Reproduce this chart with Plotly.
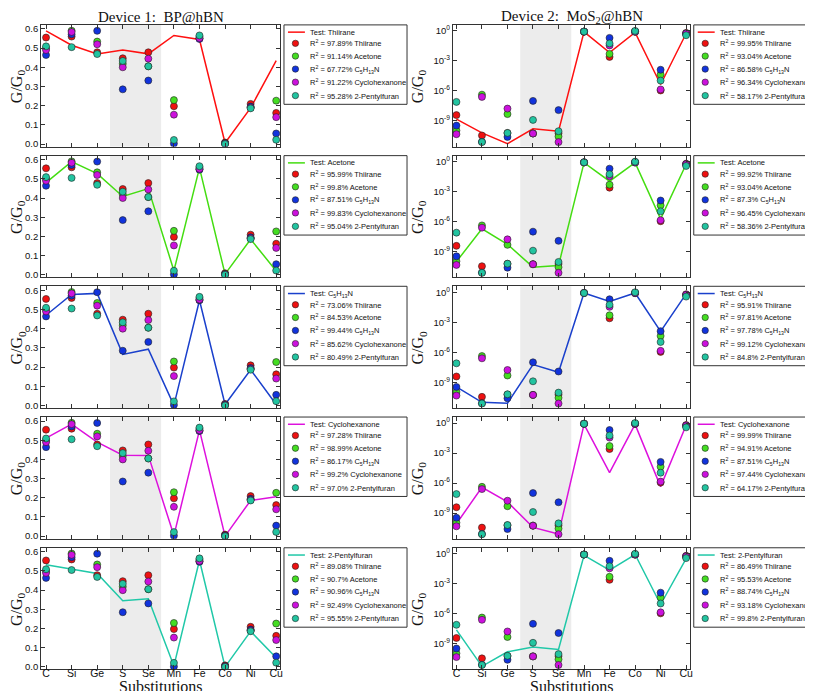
import plotly.graph_objects as go

# ---------------- data ----------------
categories = ["C", "Si", "Ge", "S", "Se", "Mn", "Fe", "Co", "Ni", "Cu"]
gas_names = ["Thiirane", "Acetone", "C<sub>5</sub>H<sub>13</sub>N", "Cyclohexanone", "2-Pentylfuran"]

# Device 1 (BP@hBN) measured G/G0 per gas
d1_thiirane = [0.555, 0.560, 0.478, 0.447, 0.478, 0.197, 0.550, 0.008, 0.209, 0.162]
d1_acetone = [0.500, 0.591, 0.534, 0.418, 0.405, 0.229, 0.560, 0.004, 0.190, 0.226]
d1_c5h13n = [0.464, 0.572, 0.590, 0.285, 0.331, 0.002, 0.548, 0.003, 0.195, 0.055]
d1_cyclohexanone = [0.490, 0.584, 0.520, 0.400, 0.445, 0.153, 0.552, 0.002, 0.190, 0.140]
d1_pentylfuran = [0.509, 0.505, 0.469, 0.433, 0.405, 0.021, 0.566, 0.000, 0.186, 0.022]

# Device 1 test predictions (lines)
p1_thiirane = [0.590, 0.515, 0.469, 0.490, 0.470, 0.566, 0.545, 0.005, 0.188, 0.435]
p1_acetone = [0.480, 0.590, 0.527, 0.408, 0.449, 0.021, 0.557, 0.003, 0.185, 0.020]
p1_c5h13n = [0.470, 0.578, 0.584, 0.266, 0.293, 0.000, 0.548, 0.005, 0.186, 0.005]
p1_cyclohexanone = [0.511, 0.584, 0.490, 0.422, 0.421, 0.003, 0.553, 0.000, 0.186, 0.206]
p1_pentylfuran = [0.532, 0.508, 0.487, 0.345, 0.355, 0.005, 0.556, 0.000, 0.185, 0.048]

# Device 2 (MoS2@hBN) measured G/G0 per gas
d2_thiirane = [3.8e-9, 3.5e-11, 6.0e-11, 5.5e-11, 5.9e-11, 0.85, 2.5e-3, 0.80, 1.1e-6, 0.63]
d2_acetone = [1.1e-10, 4.2e-7, 4.8e-9, 5.5e-11, 2.8e-11, 0.85, 5.0e-3, 0.90, 4.3e-5, 0.50]
d2_c5h13n = [3.4e-10, 8.0e-12, 2.5e-11, 1.0e-7, 1.2e-8, 0.85, 0.20, 0.85, 1.3e-4, 0.56]
d2_cyclohexanone = [4.7e-11, 2.5e-7, 1.7e-8, 5.5e-11, 7.6e-12, 0.85, 0.035, 0.85, 1.4e-6, 0.56]
d2_pentylfuran = [7.9e-8, 7.6e-12, 6.3e-11, 1.26e-9, 9.3e-11, 0.85, 0.056, 1.0, 1.07e-5, 0.37]

# Device 2 test predictions (lines)
p2_thiirane = [1.5e-9, 6.3e-11, 5.2e-12, 1.6e-10, 9.3e-11, 0.79, 6.8e-3, 0.69, 4.4e-6, 0.55]
p2_acetone = [1.0e-10, 1.9e-7, 5.4e-9, 2.8e-11, 4.1e-11, 0.79, 0.011, 0.79, 1.9e-6, 0.55]
p2_c5h13n = [3.5e-10, 1.0e-11, 8.1e-12, 5.8e-8, 1.0e-8, 0.85, 0.12, 0.85, 1.2e-4, 0.69]
p2_cyclohexanone = [8.5e-11, 3.8e-7, 1.3e-8, 3.7e-11, 8.1e-12, 0.74, 1.1e-5, 0.74, 4.4e-7, 0.59]
p2_pentylfuran = [2.5e-8, 5.6e-12, 1.6e-10, 4.9e-10, 2.7e-10, 0.69, 0.023, 0.85, 8.5e-6, 0.32]

# R^2 values shown in legends (row = test gas, entries = measured gases)
r2_dev1 = [
    ["97.89", "91.14", "67.72", "91.22", "95.28"],
    ["95.99", "99.8", "87.51", "99.83", "95.04"],
    ["73.06", "84.53", "99.44", "85.62", "80.49"],
    ["97.28", "98.99", "86.17", "99.2", "97.0"],
    ["89.08", "90.7", "90.96", "92.49", "95.55"],
]
r2_dev2 = [
    ["99.95", "93.04", "86.58", "96.34", "58.17"],
    ["99.92", "93.04", "87.3", "96.45", "58.36"],
    ["95.91", "97.81", "97.78", "99.12", "84.8"],
    ["99.99", "94.91", "87.51", "97.44", "64.17"],
    ["86.49", "95.53", "88.74", "93.18", "99.8"],
]

log_tick_vals = [1e0, 1e-3, 1e-6, 1e-9]
log_tick_text = ["10<sup>0</sup>", "10<sup>-3</sup>", "10<sup>-6</sup>", "10<sup>-9</sup>"]
column_titles = ["Device 1:  BP@hBN", "Device 2:  MoS<sub>2</sub>@hBN"]

meas = [
    [d1_thiirane, d1_acetone, d1_c5h13n, d1_cyclohexanone, d1_pentylfuran],
    [d2_thiirane, d2_acetone, d2_c5h13n, d2_cyclohexanone, d2_pentylfuran],
]
preds = [
    [p1_thiirane, p1_acetone, p1_c5h13n, p1_cyclohexanone, p1_pentylfuran],
    [p2_thiirane, p2_acetone, p2_c5h13n, p2_cyclohexanone, p2_pentylfuran],
]
r2s = [r2_dev1, r2_dev2]

# ---------------- style / layout ----------------
W, H = 813, 691
marker_colors = ["#ee1111", "#44dd22", "#1133dd", "#cc11dd", "#22c4a0"]
line_colors = ["#ff1010", "#44dd11", "#1a40cc", "#dd11dd", "#20c8a8"]
row_tops = [15, 146.7, 278.3, 410, 541.7]
row_h = 122.5
col_px = [(33.3, 273.3), (446.5, 685.0)]
x_ranges = [[-0.19, 9.16], [-0.14, 9.17]]
leg_px = [(277.0, 400.5), (688.3, 810.0)]
leg_h = 80
leg_rows = [7.3, 18.6, 31.4, 44.5, 57.7, 71.2]
sans = "Liberation Sans, Arial, sans-serif"
serif = "Liberation Serif, Times New Roman, serif"


def px_x(p):
    return p / W


def px_y(p):
    return 1 - p / H


fig = go.Figure()
shapes = []
annotations = []
layout = {}

for col in range(2):
    for row in range(5):
        k = row * 2 + col + 1
        xa = "x" if k == 1 else f"x{k}"
        ya = "y" if k == 1 else f"y{k}"
        xkey = "xaxis" if k == 1 else f"xaxis{k}"
        ykey = "yaxis" if k == 1 else f"yaxis{k}"

        fig.add_trace(go.Scatter(
            x=categories, y=preds[col][row], mode="lines",
            line=dict(color=line_colors[row], width=1.5),
            xaxis=xa, yaxis=ya, showlegend=False, hoverinfo="skip"))
        for g in range(5):
            fig.add_trace(go.Scatter(
                x=categories, y=meas[col][g], mode="markers",
                marker=dict(size=7, color=marker_colors[g],
                            line=dict(color="#222", width=0.6)),
                xaxis=xa, yaxis=ya, showlegend=False))

        top = row_tops[row]
        bot = top + row_h
        layout[xkey] = dict(
            domain=[px_x(col_px[col][0]), px_x(col_px[col][1])],
            anchor=ya, type="category", categoryorder="array",
            categoryarray=categories, range=x_ranges[col],
            ticks="inside", ticklen=4, tickcolor="#333",
            showline=True, linecolor="#333", linewidth=1, mirror="ticks",
            showgrid=False, zeroline=False, showticklabels=(row == 4),
            ticklabelstandoff=-6,
            tickfont=dict(family=sans, size=10.5, color="#111"))
        ydict = dict(
            domain=[px_y(bot), px_y(top)], anchor=xa,
            ticks="inside", ticklen=4, tickcolor="#333",
            showline=True, linecolor="#333", linewidth=1, mirror="ticks",
            showgrid=False, zeroline=False,
            tickfont=dict(family=sans, size=9.5, color="#111"))
        if col == 0:
            ydict.update(range=[-0.013, 0.621], tick0=0, dtick=0.1, tickformat=".1f")
        else:
            ydict.update(type="log", range=[-11.56, 0.6],
                         tickvals=log_tick_vals, ticktext=log_tick_text)
        layout[ykey] = ydict

        # shaded chalcogen region
        shapes.append(dict(type="rect", xref=xa, yref=f"{ya} domain",
                           x0=2.5, x1=4.5, y0=0, y1=1,
                           fillcolor="#ececec", line=dict(width=0), layer="below"))

        # y-axis label
        annotations.append(dict(
            text="G/G<sub>0</sub>", textangle=-90, xref="paper", yref="paper",
            x=px_x(9.5 if col == 0 else 412), y=px_y(top + row_h / 2),
            xanchor="center", yanchor="middle", showarrow=False,
            font=dict(family=serif, size=16, color="#111")))

        # manual legend box
        lx0, lx1 = leg_px[col]
        shapes.append(dict(type="rect", xref="paper", yref="paper",
                           x0=px_x(lx0), x1=px_x(lx1), y0=px_y(top + leg_h), y1=px_y(top),
                           line=dict(color="#333", width=1), fillcolor="white"))
        yy = top + leg_rows[0]
        shapes.append(dict(type="line", xref="paper", yref="paper",
                           x0=px_x(lx0 + 4), x1=px_x(lx0 + 21), y0=px_y(yy), y1=px_y(yy),
                           line=dict(color=line_colors[row], width=1.5)))
        annotations.append(dict(
            text="Test: " + gas_names[row], xref="paper", yref="paper",
            x=px_x(lx0 + 24.5), y=px_y(yy), xanchor="left", yanchor="middle",
            showarrow=False, font=dict(family=sans, size=7.5, color="#111")))
        for g in range(5):
            yy = top + leg_rows[g + 1]
            r = 3.2
            shapes.append(dict(type="circle", xref="paper", yref="paper",
                               x0=px_x(lx0 + 11.5 - r), x1=px_x(lx0 + 11.5 + r),
                               y0=px_y(yy + r), y1=px_y(yy - r),
                               fillcolor=marker_colors[g], line=dict(color="#222", width=0.6)))
            annotations.append(dict(
                text=f"R<sup>2</sup> = {r2s[col][row][g]}% {gas_names[g]}",
                xref="paper", yref="paper",
                x=px_x(lx0 + 24.5), y=px_y(yy), xanchor="left", yanchor="middle",
                showarrow=False, font=dict(family=sans, size=7.5, color="#111")))

    cx = (col_px[col][0] + col_px[col][1]) / 2
    annotations.append(dict(
        text=column_titles[col], xref="paper", yref="paper", x=px_x(cx), y=px_y(7),
        xanchor="center", yanchor="middle", showarrow=False,
        font=dict(family=serif, size=15, color="#111")))
    annotations.append(dict(
        text="Substitutions", xref="paper", yref="paper", x=px_x(cx), y=px_y(681),
        xanchor="center", yanchor="middle", showarrow=False,
        font=dict(family=serif, size=16, color="#111")))

fig.update_layout(
    width=W, height=H, margin=dict(l=0, r=0, t=0, b=0),
    paper_bgcolor="white", plot_bgcolor="white", showlegend=False,
    shapes=shapes, annotations=annotations, **layout)

fig.write_html("out.html")
